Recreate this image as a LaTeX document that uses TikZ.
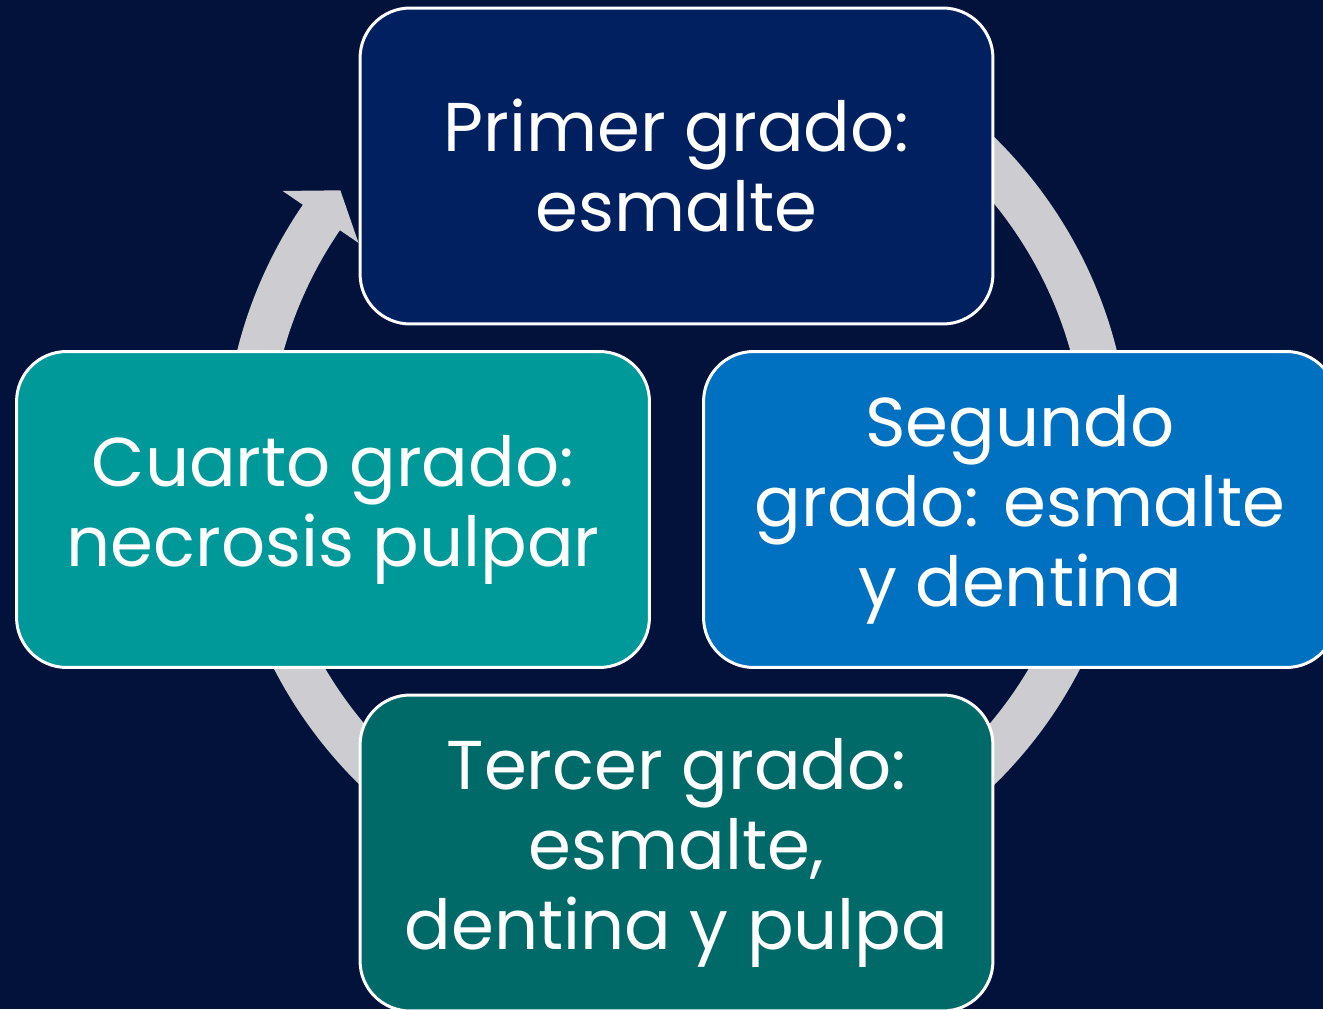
\documentclass[tikz,border=0pt]{standalone}
\usepackage{xcolor}
\usepackage{fontspec}
\setmainfont{Poppins}
\usepackage{tikz}
\usetikzlibrary{positioning}
\definecolor{BgNavy}{RGB}{2,18,59}
\definecolor{RingGray}{RGB}{204,204,209}
\definecolor{TopNavy}{RGB}{0,32,96}
\definecolor{RightBlue}{RGB}{0,112,192}
\definecolor{BottomTeal}{RGB}{0,106,104}
\definecolor{LeftTeal}{RGB}{0,153,153}
\tikzset{
  GradeBox/.style={
    rectangle, rounded corners=1cm,
    minimum width=12.66cm,
    minimum height=6.32cm,
    line width=0.06cm, draw=white, text=white,
    align=center, font=\fontsize{39.3}{45.5}\selectfont,
  },
}

\begin{document}
\begin{tikzpicture}[x=0.02cm, y=0.02cm]
\useasboundingbox (0,0) rectangle (1323,1009);
\clip (0,0) rectangle (1323,1009);
\fill[BgNavy] (0,0) rectangle (1323,1009);
\coordinate (Ring) at (677,548);
% ring with the one visible head
\draw[RingGray, line width=0.9cm] (Ring) ++(130:431) arc[start angle=130, end angle=-214.8, radius=8.62cm];
\fill[RingGray, shift={(677,548)}] (145.6:478) -- (141.2:432) -- (145.6:386) -- cycle;
\node[GradeBox, fill=TopNavy] (Primer) at (676.5,843) {Primer grado:\\esmalte};
\node[GradeBox, fill=RightBlue] (Segundo) at (1020,499.5) {Segundo\\grado: esmalte\\y dentina};
\node[GradeBox, fill=BottomTeal] (Tercer) at (676.5,156) {Tercer grado:\\esmalte,\\dentina y pulpa};
\node[GradeBox, fill=LeftTeal] (Cuarto) at (333,499.5) {Cuarto grado:\\necrosis pulpar};
\end{tikzpicture}
\end{document}
